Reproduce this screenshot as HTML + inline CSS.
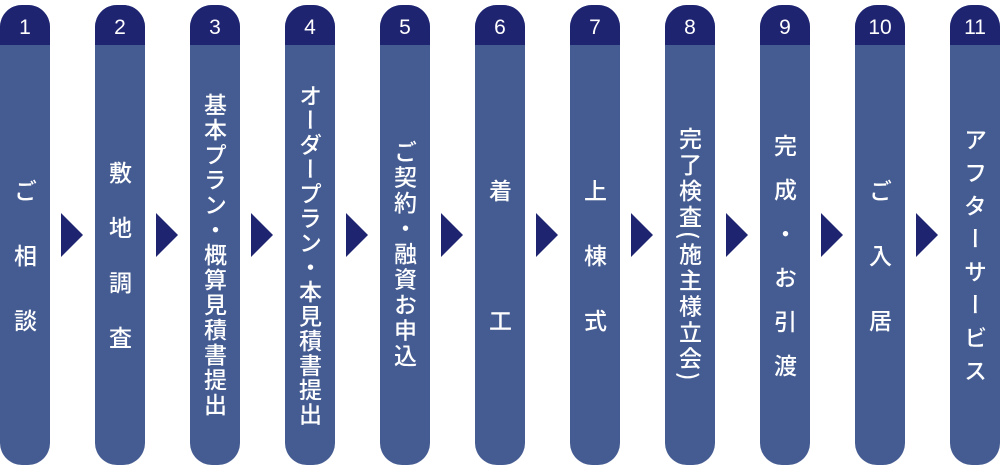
<!DOCTYPE html>
<html><head><meta charset="utf-8"><style>
body{margin:0;width:1000px;height:470px;background:#fff;position:relative;overflow:hidden;font-family:"Liberation Sans","Noto Sans CJK JP",sans-serif}
.c{position:absolute;top:5px;width:50px;height:460px;border-radius:22px;background:#455c92;overflow:hidden}
.h{position:absolute;top:0;left:0;width:50px;height:40px;background:#1f2471;color:#fff;font-size:21px;text-align:center;line-height:46px}
.t{position:absolute;top:40px;left:0;width:50px;height:420px;display:flex;align-items:center;justify-content:center}
.t span{writing-mode:vertical-rl;color:#fff;font-size:23px;font-weight:500;font-family:"Noto Sans CJK JP",sans-serif;line-height:1}
.a{position:absolute;top:213px;width:0;height:0;border-top:22px solid transparent;border-bottom:22px solid transparent;border-left:22px solid #1f2471}
</style></head><body>
<div class="c" style="left:0"><div class="h">1</div><div class="t"><span style="letter-spacing:42px;margin-top:42px">ご相談</span></div></div>
<div class="c" style="left:95px"><div class="h">2</div><div class="t"><span style="letter-spacing:32px;margin-top:32px">敷地調査</span></div></div>
<div class="c" style="left:190px"><div class="h">3</div><div class="t"><span style="letter-spacing:2px">基本プラン・概算見積書提出</span></div></div>
<div class="c" style="left:285px"><div class="h">4</div><div class="t"><span style="letter-spacing:1.5px">オーダープラン・本見積書提出</span></div></div>
<div class="c" style="left:380px"><div class="h">5</div><div class="t"><span style="letter-spacing:2.5px">ご契約・融資お申込</span></div></div>
<div class="c" style="left:475px"><div class="h">6</div><div class="t"><span style="letter-spacing:107px;margin-top:107px">着工</span></div></div>
<div class="c" style="left:570px"><div class="h">7</div><div class="t"><span style="letter-spacing:42px;margin-top:42px">上棟式</span></div></div>
<div class="c" style="left:665px"><div class="h">8</div><div class="t"><span style="letter-spacing:3px">完了検査(施主様立会)</span></div></div>
<div class="c" style="left:760px"><div class="h">9</div><div class="t"><span style="letter-spacing:21px;margin-top:21px">完成・お引渡</span></div></div>
<div class="c" style="left:855px"><div class="h">10</div><div class="t"><span style="letter-spacing:42px;margin-top:42px">ご入居</span></div></div>
<div class="c" style="left:950px"><div class="h">11</div><div class="t"><span style="letter-spacing:10px;margin-top:10px">アフターサービス</span></div></div>
<div class="a" style="left:61px"></div>
<div class="a" style="left:156px"></div>
<div class="a" style="left:251px"></div>
<div class="a" style="left:346px"></div>
<div class="a" style="left:441px"></div>
<div class="a" style="left:536px"></div>
<div class="a" style="left:631px"></div>
<div class="a" style="left:726px"></div>
<div class="a" style="left:821px"></div>
<div class="a" style="left:916px"></div>
</body></html>
